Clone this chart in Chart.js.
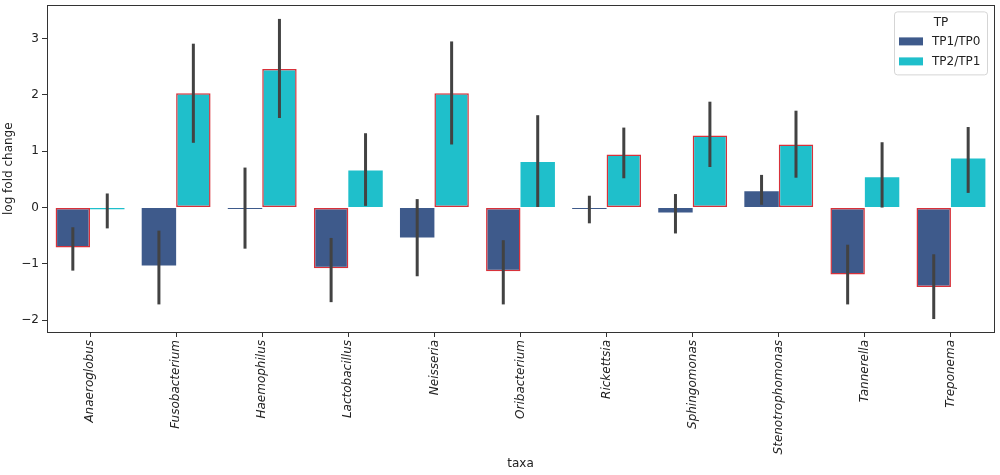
<!DOCTYPE html>
<html>
<head>
<meta charset="utf-8">
<script src="https://cdn.jsdelivr.net/npm/chart.js@4.4.1/dist/chart.umd.min.js"></script>
<style>
    html, body { margin: 0; padding: 0; background: #fff; }
    #wrap { width: 1000px; height: 475px; }
</style>
</head>
<body>
<div id="wrap"><canvas id="chart" width="1000" height="475"></canvas></div>
<script>
// Data
const taxa = ["Anaeroglobus", "Fusobacterium", "Haemophilus", "Lactobacillus", "Neisseria",
    "Oribacterium", "Rickettsia", "Sphingomonas", "Stenotrophomonas", "Tannerella", "Treponema"];

const tp1tp0 = [-0.71, -1.03, -0.02, -1.08, -0.53, -1.13, -0.01, -0.09, 0.29, -1.19, -1.41];
const tp1tp0Lo = [-1.12, -1.72, -0.73, -1.68, -1.22, -1.72, -0.28, -0.46, 0.05, -1.72, -1.98];
const tp1tp0Hi = [-0.35, -0.41, 0.71, -0.54, 0.15, -0.58, 0.21, 0.24, 0.58, -0.66, -0.83];
const tp1tp0Sig = [true, false, false, true, false, true, false, false, false, true, true];

const tp2tp1 = [-0.03, 2.03, 2.46, 0.66, 2.03, 0.81, 0.94, 1.28, 1.12, 0.54, 0.87];
const tp2tp1Lo = [-0.37, 1.15, 1.59, 0.03, 1.12, 0.01, 0.52, 0.72, 0.53, 0.0, 0.26];
const tp2tp1Hi = [0.25, 2.91, 3.35, 1.32, 2.95, 1.64, 1.42, 1.88, 1.72, 1.16, 1.43];
const tp2tp1Sig = [false, true, true, false, true, false, true, true, true, false, false];

const yTicks = [-2, -1, 0, 1, 2, 3];

const FONT = "'DejaVu Sans', sans-serif";
const TEXT = "#222222";
const SPINE = "#333333";
const SIG_EDGE = "#d8313a";

const errorLows = [tp1tp0Lo, tp2tp1Lo];
const errorHighs = [tp1tp0Hi, tp2tp1Hi];

// Vertical error bars through each bar centre
const errorBars = {
    id: "errorBars",
    afterDatasetsDraw(chart) {
        const ctx = chart.ctx;
        const yScale = chart.scales.y;
        ctx.save();
        ctx.strokeStyle = "#424242";
        ctx.lineWidth = 3;
        chart.data.datasets.forEach((ds, i) => {
            const meta = chart.getDatasetMeta(i);
            meta.data.forEach((bar, j) => {
                const y1 = yScale.getPixelForValue(errorLows[i][j]);
                const y2 = yScale.getPixelForValue(errorHighs[i][j]);
                ctx.beginPath();
                ctx.moveTo(bar.x, y1);
                ctx.lineTo(bar.x, y2);
                ctx.stroke();
            });
        });
        ctx.restore();
    },
};

// Box around the plot plus a matplotlib-like legend in the top right corner
const frameAndLegend = {
    id: "frameAndLegend",
    afterDraw(chart) {
        const ctx = chart.ctx;
        const area = chart.chartArea;
        ctx.save();
        ctx.strokeStyle = SPINE;
        ctx.lineWidth = 1;
        ctx.strokeRect(Math.round(area.left) + 0.5, Math.round(area.top) + 0.5,
            Math.round(area.right - area.left), Math.round(area.bottom - area.top));

        const boxW = 93, boxH = 63;
        const bx = area.right - boxW - 7;
        const by = area.top + 6;
        ctx.fillStyle = "rgba(255,255,255,0.85)";
        ctx.strokeStyle = "#d5d5d5";
        ctx.beginPath();
        ctx.roundRect(bx + 0.5, by + 0.5, boxW, boxH, 3);
        ctx.fill();
        ctx.stroke();

        ctx.fillStyle = TEXT;
        ctx.font = "12px " + FONT;
        ctx.textBaseline = "middle";
        ctx.textAlign = "center";
        ctx.fillText("TP", bx + 47, by + 11);
        ctx.textAlign = "left";
        chart.data.datasets.forEach((ds, i) => {
            const rowY = by + 30 + i * 20;
            ctx.fillStyle = ds.backgroundColor;
            ctx.fillRect(bx + 5, rowY - 4, 24, 8);
            ctx.fillStyle = TEXT;
            ctx.fillText(ds.label, bx + 38, rowY);
        });
        ctx.restore();
    },
};

new Chart(document.getElementById("chart"), {
    type: "bar",
    data: {
        labels: taxa,
        datasets: [
            {
                label: "TP1/TP0",
                data: tp1tp0,
                backgroundColor: "#3e5a8b",
                borderColor: tp1tp0Sig.map((s) => (s ? SIG_EDGE : "#3e5a8b")),
                borderWidth: tp1tp0Sig.map((s) => (s ? 1.5 : 0)),
                borderSkipped: false,
                minBarLength: 1.5,
                categoryPercentage: 0.8,
                barPercentage: 1.0,
            },
            {
                label: "TP2/TP1",
                data: tp2tp1,
                backgroundColor: "#1fbfcb",
                borderColor: tp2tp1Sig.map((s) => (s ? SIG_EDGE : "#1fbfcb")),
                borderWidth: tp2tp1Sig.map((s) => (s ? 1.5 : 0)),
                borderSkipped: false,
                minBarLength: 1.5,
                categoryPercentage: 0.8,
                barPercentage: 1.0,
            },
        ],
    },
    options: {
        responsive: false,
        animation: false,
        devicePixelRatio: 1,
        layout: { padding: { left: 0, top: 3, right: 6, bottom: 0 } },
        plugins: {
            legend: { display: false },
            tooltip: { enabled: false },
        },
        scales: {
            x: {
                offset: true,
                grid: { offset: false, drawOnChartArea: false, drawTicks: true, tickLength: 5, color: SPINE },
                border: { display: false },
                ticks: {
                    autoSkip: false,
                    minRotation: 90,
                    maxRotation: 90,
                    padding: 3,
                    color: TEXT,
                    font: { family: FONT, size: 12, style: "italic" },
                },
                title: {
                    display: true,
                    text: "taxa",
                    color: TEXT,
                    font: { family: FONT, size: 12 },
                    padding: { top: 4, bottom: 4 },
                },
                afterFit(scale) {
                    scale.height = 143;
                },
            },
            y: {
                min: -2.21,
                max: 3.59,
                grid: { drawOnChartArea: false, drawTicks: true, tickLength: 5, color: SPINE },
                border: { display: false },
                afterBuildTicks(scale) {
                    scale.ticks = yTicks.map((v) => ({ value: v }));
                },
                ticks: {
                    padding: 3,
                    color: TEXT,
                    font: { family: FONT, size: 12, lineHeight: 0.4 },
                    callback: (v) => String(v).replace("-", "\u2212"),
                },
                title: {
                    display: true,
                    text: "log fold change",
                    color: TEXT,
                    font: { family: FONT, size: 12 },
                    padding: { top: 2, bottom: 2 },
                },
                afterFit(scale) {
                    scale.width = 47;
                },
            },
        },
    },
    plugins: [errorBars, frameAndLegend],
});
</script>
</body>
</html>
